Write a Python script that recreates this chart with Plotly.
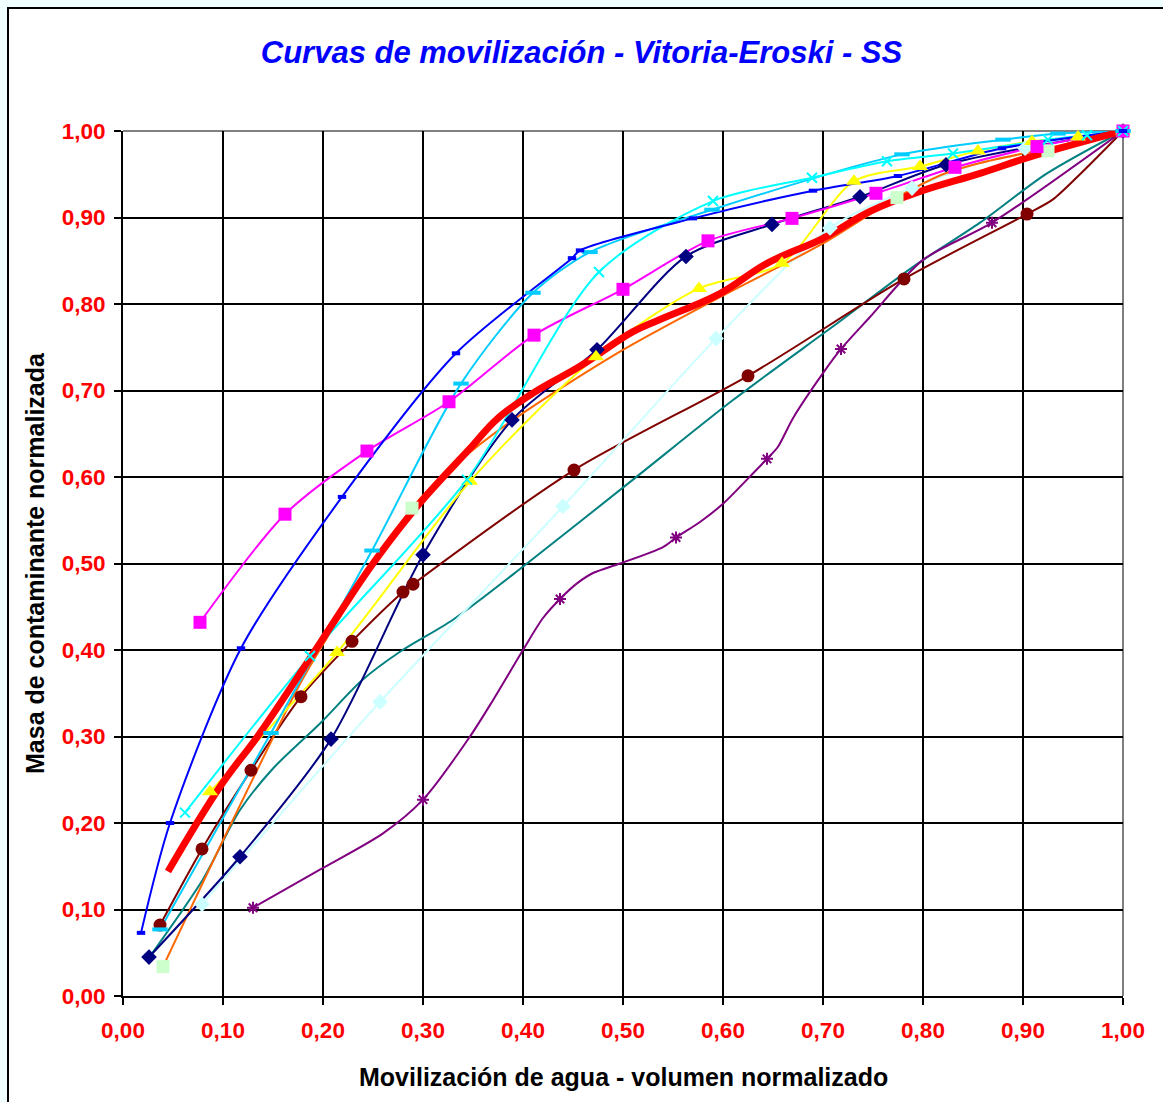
import plotly.graph_objects as go

# ---- data: normalised water volume (x) vs normalised contaminant mass (y) ----
azul_x = [0.018, 0.047, 0.118, 0.219, 0.333, 0.449, 0.457, 0.570, 0.690, 0.775, 0.879, 1.0]
azul_y = [0.073, 0.200, 0.402, 0.577, 0.743, 0.853, 0.862, 0.899, 0.931, 0.948, 0.980, 1.0]

magenta_x = [0.077, 0.162, 0.244, 0.326, 0.411, 0.500, 0.585, 0.669, 0.753, 0.832, 0.914, 1.0]
magenta_y = [0.432, 0.557, 0.630, 0.687, 0.764, 0.817, 0.873, 0.899, 0.928, 0.958, 0.982, 1.0]

amarillo_x = [0.087, 0.214, 0.347, 0.473, 0.576, 0.659, 0.731, 0.797, 0.855, 0.909, 0.955, 1.0]
amarillo_y = [0.236, 0.397, 0.595, 0.739, 0.818, 0.847, 0.942, 0.959, 0.977, 0.988, 0.993, 1.0]

cian_x = [0.062, 0.187, 0.344, 0.476, 0.590, 0.689, 0.764, 0.830, 0.925, 0.964, 1.0]
cian_y = [0.212, 0.393, 0.597, 0.837, 0.919, 0.946, 0.965, 0.974, 0.990, 0.995, 1.0]

celeste_x = [0.037, 0.148, 0.249, 0.338, 0.410, 0.467, 0.589, 0.779, 0.880, 0.935, 1.0]
celeste_y = [0.077, 0.304, 0.515, 0.708, 0.813, 0.860, 0.909, 0.973, 0.990, 0.997, 1.0]

marino_x = [0.026, 0.117, 0.208, 0.300, 0.389, 0.474, 0.563, 0.649, 0.737, 0.823, 1.0]
marino_y = [0.045, 0.161, 0.297, 0.510, 0.666, 0.747, 0.855, 0.892, 0.924, 0.961, 1.0]

granate_x = [0.037, 0.079, 0.128, 0.178, 0.229, 0.280, 0.290, 0.451, 0.625, 0.781, 0.904, 0.930, 0.957, 1.0]
granate_y = [0.082, 0.170, 0.261, 0.346, 0.410, 0.467, 0.476, 0.608, 0.717, 0.829, 0.904, 0.921, 0.950, 1.0]
granate_mx = [0.037, 0.079, 0.128, 0.178, 0.229, 0.280, 0.290, 0.451, 0.625, 0.781, 0.904]
granate_my = [0.082, 0.170, 0.261, 0.346, 0.410, 0.467, 0.476, 0.608, 0.717, 0.829, 0.904]

verdeazul_x = [0.027, 0.080, 0.117, 0.150, 0.197, 0.239, 0.277, 0.330, 0.404, 0.510, 0.610, 0.717, 0.790, 0.857, 0.924, 1.0]
verdeazul_y = [0.046, 0.135, 0.215, 0.263, 0.315, 0.365, 0.398, 0.435, 0.500, 0.597, 0.689, 0.780, 0.843, 0.894, 0.951, 1.0]

morado_x = [0.130, 0.200, 0.260, 0.300, 0.347, 0.370, 0.400, 0.420, 0.437, 0.454, 0.470, 0.497, 0.540,
            0.553, 0.577, 0.600, 0.624, 0.644, 0.655, 0.670, 0.700, 0.718, 0.747, 0.800, 0.869, 1.0]
morado_y = [0.102, 0.148, 0.188, 0.227, 0.300, 0.342, 0.400, 0.437, 0.459, 0.477, 0.489, 0.500, 0.519,
            0.530, 0.548, 0.569, 0.597, 0.621, 0.635, 0.668, 0.720, 0.748, 0.785, 0.851, 0.894, 1.0]
morado_mx = [0.130, 0.300, 0.437, 0.553, 0.644, 0.718, 0.869]
morado_my = [0.102, 0.227, 0.459, 0.530, 0.621, 0.748, 0.894]

turquesa_x = [0.079, 0.257, 0.440, 0.593, 0.707, 0.789, 0.902, 1.0]
turquesa_y = [0.106, 0.340, 0.566, 0.760, 0.888, 0.934, 0.980, 1.0]

naranja_x = [0.040, 0.100, 0.154, 0.179, 0.240, 0.289, 0.330, 0.390, 0.494, 0.597, 0.700, 0.774, 0.820, 0.857, 0.925, 1.0]
naranja_y = [0.034, 0.180, 0.308, 0.365, 0.480, 0.564, 0.612, 0.666, 0.743, 0.808, 0.870, 0.923, 0.950, 0.963, 0.980, 1.0]
verde_mx = [0.040, 0.289, 0.774, 0.925, 1.0]
verde_my = [0.034, 0.564, 0.923, 0.977, 1.0]

media_x = [0.045, 0.097, 0.137, 0.197, 0.250, 0.297, 0.347, 0.374, 0.410, 0.457, 0.510, 0.537,
           0.597, 0.644, 0.700, 0.747, 0.797, 0.857, 0.907, 1.0]
media_y = [0.144, 0.242, 0.304, 0.408, 0.500, 0.570, 0.633, 0.667, 0.697, 0.728, 0.768, 0.782,
           0.812, 0.847, 0.876, 0.907, 0.930, 0.951, 0.970, 1.0]

ticks = [round(i * 0.1, 1) for i in range(11)]

TITLE = "Curvas de movilización - Vitoria-Eroski - SS"
XTITLE = "Movilización de agua - volumen normalizado"
YTITLE = "Masa de contaminante normalizada"

FONT = "Liberation Sans, Arial, sans-serif"

fig = go.Figure()

def line(x, y, color, width=2, smoothing=0.8):
    fig.add_trace(go.Scatter(x=x, y=y, mode="lines", cliponaxis=False,
                             line=dict(color=color, width=width, shape="spline", smoothing=smoothing),
                             hoverinfo="skip", showlegend=False))

def marks(x, y, symbol, size, fill, edge=None, edge_w=0):
    fig.add_trace(go.Scatter(x=x, y=y, mode="markers", cliponaxis=False,
                             marker=dict(symbol=symbol, size=size, color=fill,
                                         line=dict(color=edge or fill, width=edge_w)),
                             showlegend=False))

# curves
line(verdeazul_x, verdeazul_y, "#008080")
line(granate_x, granate_y, "#800000")
line(morado_x, morado_y, "#800080")
line(turquesa_x, turquesa_y, "#CCFFFF")
line(naranja_x, naranja_y, "#FF6600")
line(marino_x, marino_y, "#000080")
line(amarillo_x, amarillo_y, "#FFFF00")
line(magenta_x, magenta_y, "#FF00FF")
line(celeste_x, celeste_y, "#00CCFF")
line(cian_x, cian_y, "#00FFFF")
line(azul_x, azul_y, "#0000FF")
line(media_x, media_y, "#FF0000", width=7, smoothing=1.1)

# markers
marks(granate_mx, granate_my, "circle", 13, "#800000")
marks(morado_mx, morado_my, "asterisk-open", 10, "#800080", "#800080", 2)
marks(turquesa_x, turquesa_y, "diamond", 12, "#CCFFFF")
marks(verde_mx, verde_my, "square", 13, "#CCFFCC")
marks(marino_x, marino_y, "diamond", 12, "#000080")
marks(amarillo_x, amarillo_y, "triangle-up", 14, "#FFFF00")
marks(magenta_x, magenta_y, "square", 13, "#FF00FF")
marks(celeste_x, celeste_y, "line-ew-open", 11, "#00CCFF", "#00CCFF", 4)
marks(cian_x, cian_y, "x-thin-open", 10, "#00FFFF", "#00FFFF", 2)
marks(azul_x, azul_y, "line-ew-open", 6, "#0000FF", "#0000FF", 4)

axis_common = dict(
    range=[0, 1], tickvals=ticks, tickformat=".2f",
    showgrid=True, gridcolor="black", gridwidth=2, zeroline=False,
    showline=True, linecolor="black", linewidth=2,
    ticks="outside", ticklen=7, tickwidth=2, tickcolor="black",
    tickfont=dict(family=FONT, size=22.5, color="#FF0000", weight="bold"),
    fixedrange=True,
)

fig.update_layout(
    width=1163, height=1102, autosize=False,
    margin=dict(l=123, r=40, t=131, b=106),
    paper_bgcolor="#F0FFFF", plot_bgcolor="white",
    separators=",.",
    xaxis=dict(**axis_common, ticklabelstandoff=6),
    yaxis=dict(**axis_common, ticklabelstandoff=4),
    title=dict(text=TITLE, x=0.5, xanchor="center", y=1 - 52 / 1102, yanchor="middle",
               font=dict(family=FONT, size=31, color="#0000FF", weight="bold", style="italic")),
    annotations=[
        dict(text=XTITLE, xref="paper", yref="paper", x=0.5, y=(996 - 1077) / 865,
             xanchor="center", yanchor="middle", showarrow=False,
             font=dict(family=FONT, size=25, color="black", weight="bold")),
        dict(text=YTITLE, xref="paper", yref="paper", x=(35 - 123) / 1000, y=(996 - 563) / 865,
             xanchor="center", yanchor="middle", showarrow=False, textangle=-90,
             font=dict(family=FONT, size=25, color="black", weight="bold")),
    ],
    shapes=[
        # chart frame
        dict(type="rect", xref="paper", yref="paper", layer="below",
             x0=(8 - 123) / 1000, x1=(1180 - 123) / 1000,
             y0=(996 - 1120) / 865, y1=(996 - 8) / 865,
             fillcolor="white", line=dict(color="black", width=2)),
        # grey top and right borders of the plot area
        dict(type="line", xref="paper", yref="paper", layer="between",
             x0=0, x1=1, y0=1, y1=1, line=dict(color="#808080", width=2)),
        dict(type="line", xref="paper", yref="paper", layer="between",
             x0=1, x1=1, y0=0, y1=1, line=dict(color="#808080", width=2)),
    ],
)

fig.write_html("out.html")
